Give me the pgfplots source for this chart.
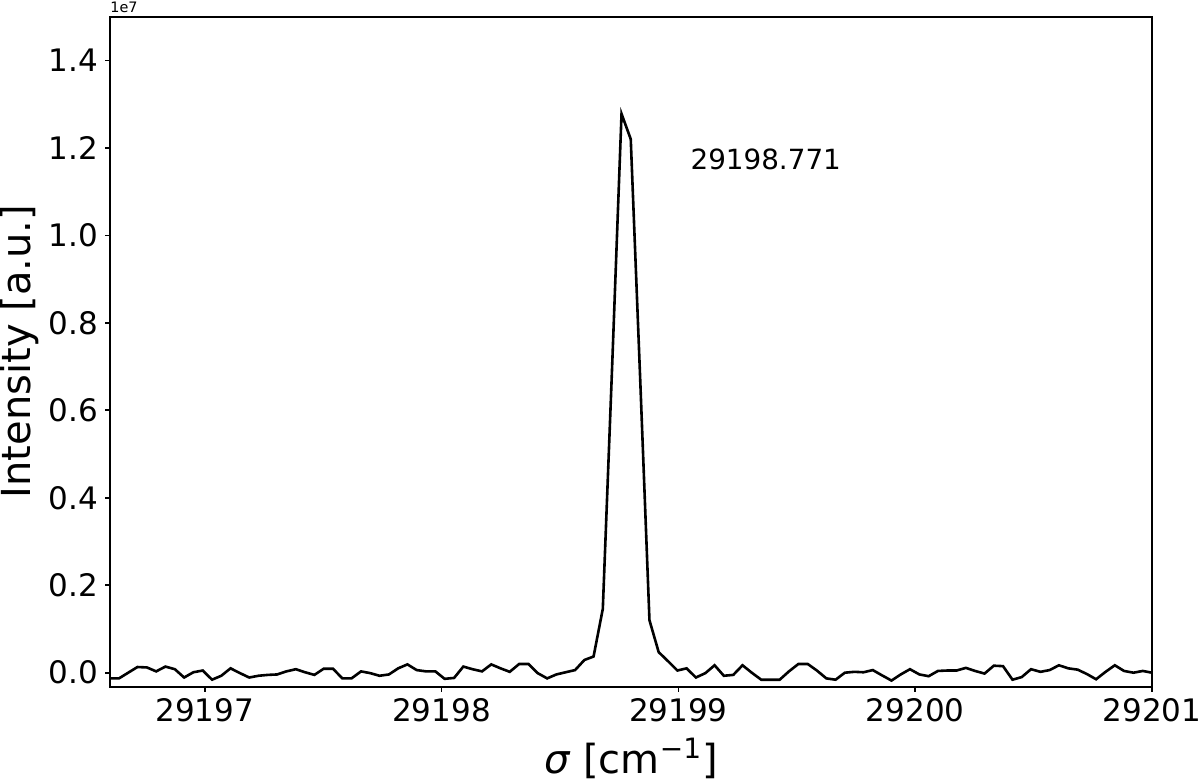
\documentclass[border=0pt]{standalone}
\usepackage{fontspec}
\setmainfont{DejaVu Sans}
\usepackage{pgfplots}
\usepackage{pgfplotstable}
\pgfplotsset{compat=1.18}

% wavenumber [cm^-1], intensity [1e7 a.u.]
\pgfplotstableread{
x y
29196.599 -0.013
29196.638 -0.013
29196.677 0.000
29196.716 0.013
29196.756 0.012
29196.795 0.003
29196.834 0.014
29196.874 0.008
29196.913 -0.011
29196.952 0.001
29196.992 0.005
29197.031 -0.016
29197.070 -0.007
29197.109 0.010
29197.149 -0.001
29197.188 -0.011
29197.227 -0.007
29197.267 -0.005
29197.306 -0.004
29197.345 0.003
29197.385 0.008
29197.424 0.001
29197.463 -0.005
29197.502 0.009
29197.542 0.009
29197.581 -0.013
29197.620 -0.013
29197.660 0.003
29197.699 -0.001
29197.738 -0.007
29197.778 -0.004
29197.817 0.010
29197.856 0.019
29197.895 0.006
29197.935 0.003
29197.974 0.003
29198.013 -0.014
29198.053 -0.012
29198.092 0.014
29198.131 0.008
29198.171 0.003
29198.210 0.019
29198.249 0.010
29198.288 0.002
29198.328 0.020
29198.367 0.020
29198.406 -0.001
29198.446 -0.013
29198.485 -0.004
29198.524 0.001
29198.564 0.006
29198.603 0.029
29198.642 0.037
29198.681 0.146
29198.721 0.709
29198.760 1.278
29198.799 1.220
29198.839 0.670
29198.878 0.120
29198.917 0.047
29198.957 0.026
29198.996 0.005
29199.035 0.010
29199.074 -0.011
29199.114 -0.001
29199.153 0.017
29199.192 -0.007
29199.232 -0.005
29199.271 0.017
29199.310 0.000
29199.350 -0.016
29199.389 -0.016
29199.428 -0.016
29199.467 0.003
29199.507 0.020
29199.546 0.020
29199.585 0.005
29199.625 -0.013
29199.664 -0.016
29199.703 0.000
29199.743 0.002
29199.782 0.001
29199.821 0.006
29199.860 -0.006
29199.900 -0.018
29199.939 -0.004
29199.978 0.008
29200.018 -0.004
29200.057 -0.008
29200.096 0.004
29200.136 0.005
29200.175 0.005
29200.214 0.011
29200.253 0.004
29200.293 -0.002
29200.332 0.016
29200.371 0.015
29200.411 -0.016
29200.450 -0.010
29200.489 0.008
29200.529 0.002
29200.568 0.006
29200.607 0.017
29200.646 0.010
29200.686 0.007
29200.725 -0.003
29200.764 -0.015
29200.804 0.002
29200.843 0.017
29200.882 0.004
29200.922 0.000
29200.961 0.004
29201.000 0.000
}\spectrum

\begin{document}
\begin{tikzpicture}
\path[use as bounding box] (-55pt,-47.15pt) rectangle (545pt,343.35pt);
\begin{axis}[
    at={(0,0)}, anchor=south west,
    scale only axis,
    width=521pt, height=335pt,
    xmin=29196.6, xmax=29201,
    ymin=-0.032, ymax=1.5,
    xtick={29197,29198,29199,29200,29201},
    ytick={0,0.2,0.4,0.6,0.8,1.0,1.2,1.4},
    scaled x ticks=false, scaled y ticks=false,
    xtick pos=lower, ytick pos=left,
    tick align=outside,
    major tick length=2.5pt,
    tick style={black, line width=0.8pt},
    axis line style={black, line width=0.9pt},
    /pgf/number format/assume math mode=true,
    ticklabel style={font=\fontsize{15.5}{18}\selectfont},
    xticklabel style={/pgf/number format/fixed, /pgf/number format/precision=0, /pgf/number format/1000 sep={}},
    yticklabel style={/pgf/number format/fixed, /pgf/number format/fixed zerofill, /pgf/number format/precision=1},
    xlabel={\textit{σ} [cm\textsuperscript{−1}]},
    ylabel={Intensity [a.u.]},
    label style={font=\fontsize{20}{24}\selectfont},
    xlabel style={at={(axis description cs:0.5,-0.107)}, anchor=center},
    ylabel style={at={(axis description cs:-0.0865,0.5)}, anchor=center},
]
\addplot[black, line width=1.3pt] table {\spectrum};
\node[anchor=base west, inner sep=0pt, font=\fontsize{13.9}{16}\selectfont] at (axis cs:29199.05,1.15) {29198.771};
\end{axis}
\node[anchor=south west, inner sep=0pt, font=\fontsize{7.2}{8}\selectfont] at (0pt,336.8pt) {1e7};
\end{tikzpicture}
\end{document}
